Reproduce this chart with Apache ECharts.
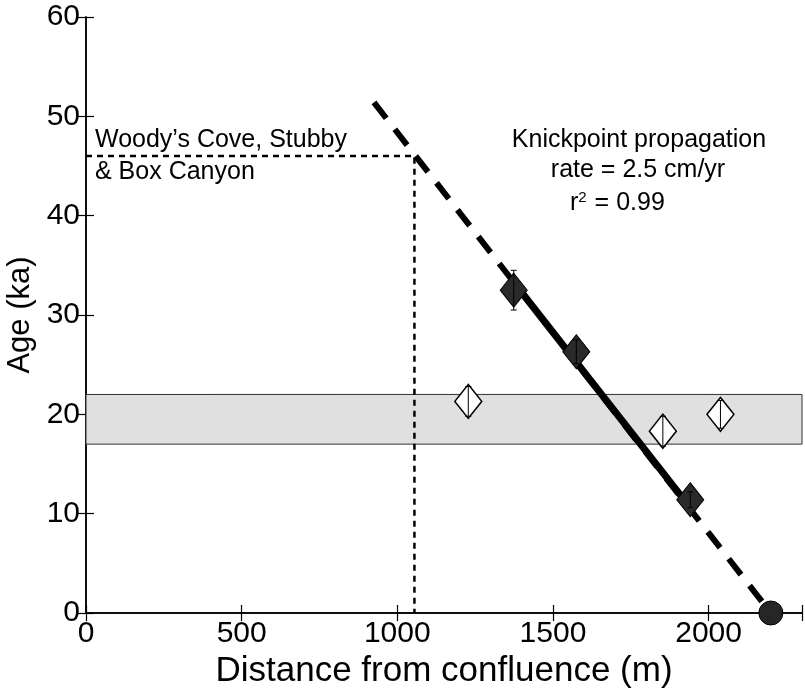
<!DOCTYPE html>
<html><head><meta charset="utf-8">
<script src="https://cdn.jsdelivr.net/npm/echarts@6/dist/echarts.min.js"></script>
<style>html,body{margin:0;padding:0;background:#fff}#c{width:805px;height:693px}</style>
</head><body><div id="c"></div>
<script>
// ---- data ----
const xRange = [0, 2300];
const yRange = [0, 60];
const filledDist = [1374, 1575, 1941];
const filledAge  = [32.5, 26.3, 11.4];
const filledErr  = [2.0, 1.2, 0.8];
const openDist = [1228, 1853, 2038];
const openAge  = [21.3, 18.3, 20.0];
const openErr  = [1.5, 1.5, 1.4];
const confluenceDist = [2200];
const confluenceAge  = [0];
const fitDashedDist = [925, 2200];
const fitDashedAge  = [51.4, 0];
const fitSolidDist = [1374, 1941];
const fitSolidAge  = [33.3, 10.6];
const refDist = 1055;
const refAge = 46;
const floodBand = [17, 22];

const tickFont = "'Liberation Sans',Arial,sans-serif";
const textFont = "'Liberation Sans',Arial,sans-serif";

const zip = (a, b) => a.map((v, i) => [v, b[i]]);
const errData = (xs, ys, es) => xs.map((v, i) => [v, ys[i] - es[i], ys[i] + es[i]]);

const chart = echarts.init(document.getElementById('c'), null, {renderer: 'canvas'});

const axisLineStyle = {lineStyle: {color: '#000', width: 1.5}};
const tickStyle = {show: true, inside: true, length: 8, lineStyle: {color: '#000', width: 1.2}};

function errRender(params, api) {
  const x = api.value(0), lo = api.value(1), hi = api.value(2);
  const p1 = api.coord([x, lo]), p2 = api.coord([x, hi]);
  const c = 3;
  const st = {stroke: '#000', lineWidth: 1};
  return {type: 'group', children: [
    {type: 'line', shape: {x1: p1[0], y1: p1[1], x2: p2[0], y2: p2[1]}, style: st},
    {type: 'line', shape: {x1: p1[0] - c, y1: p1[1], x2: p1[0] + c, y2: p1[1]}, style: st},
    {type: 'line', shape: {x1: p2[0] - c, y1: p2[1], x2: p2[0] + c, y2: p2[1]}, style: st}
  ]};
}

const txt = (x, y, text, align) => ({type: 'text', x: x, y: y,
  style: {text: text, font: '25px ' + textFont, fill: '#000', align: align || 'left', verticalAlign: 'middle'}});

const option = {
  animation: false,
  backgroundColor: '#fff',
  grid: {left: 86, right: 3, top: 17, bottom: 80, containLabel: false, outerBoundsMode: 'none'},
  xAxis: [{
    type: 'value', min: xRange[0], max: xRange[1], interval: 500, position: 'bottom',
    axisLine: axisLineStyle, axisTick: tickStyle, splitLine: {show: false},
    axisLabel: {fontFamily: tickFont, fontSize: 30, color: '#000', margin: 6,
      formatter: v => (v % 500 === 0 ? String(v) : '')},
    name: 'Distance from confluence (m)', nameLocation: 'middle', nameGap: 38,
    nameTextStyle: {fontFamily: tickFont, fontSize: 35, color: '#000'}
  }, {
    type: 'value', min: xRange[0], max: xRange[1], interval: 500, position: 'top',
    axisLine: axisLineStyle, axisTick: tickStyle, axisLabel: {show: false}, splitLine: {show: false}
  }],
  yAxis: [{
    type: 'value', min: yRange[0], max: yRange[1], interval: 10, position: 'left',
    axisLine: axisLineStyle, axisTick: tickStyle, splitLine: {show: false},
    axisLabel: {fontFamily: tickFont, fontSize: 30, color: '#000', margin: 6},
    name: 'Age (ka)', nameLocation: 'middle', nameGap: 50,
    nameTextStyle: {fontFamily: tickFont, fontSize: 31, color: '#000'}
  }, {
    type: 'value', min: yRange[0], max: yRange[1], interval: 10, position: 'right',
    axisLine: axisLineStyle, axisTick: tickStyle, axisLabel: {show: false}, splitLine: {show: false}
  }],
  graphic: [
    txt(95, 140, 'Woody\u2019s Cove, Stubby'),
    txt(95, 172, '& Box Canyon'),
    txt(639, 140, 'Knickpoint propagation', 'center'),
    txt(638, 170, 'rate = 2.5 cm/yr', 'center'),
    {type: 'text', x: 570, y: 203, style: {
      text: '{b|r}{s|2}{b| = 0.99}', verticalAlign: 'middle',
      rich: {b: {fontSize: 25, fontFamily: textFont, color: '#000'},
             s: {fontSize: 15, fontFamily: textFont, color: '#000', verticalAlign: 'top', padding: [0, 1, 10, 0]}}}},
    txt(128, 420, 'Bonneville Flood')
  ],
  series: [
    {
      type: 'custom', name: 'band', z: 1, silent: true,
      data: [[xRange[0], floodBand[0], floodBand[1]]],
      encode: {x: 0, y: [1, 2]},
      renderItem: (params, api) => {
        const cs = params.coordSys;
        const yTop = api.coord([0, api.value(2)])[1];
        const yBot = api.coord([0, api.value(1)])[1];
        return {type: 'rect', shape: {x: cs.x, y: yTop, width: cs.width, height: yBot - yTop},
          style: {fill: '#e0e0e0', stroke: '#333', lineWidth: 1}};
      }
    },
    {
      type: 'line', name: 'ref', z: 2, symbol: 'none', silent: true,
      data: [[xRange[0], refAge], [refDist, refAge], [refDist, 0]],
      lineStyle: {color: '#000', width: 2.5, type: [6, 5]}
    },
    {
      type: 'line', name: 'fitDashed', z: 3, symbol: 'none', silent: true,
      data: zip(fitDashedDist, fitDashedAge),
      lineStyle: {color: '#000', width: 6, type: [20, 14]}
    },
    {
      type: 'line', name: 'fitSolid', z: 4, symbol: 'none', silent: true,
      data: zip(fitSolidDist, fitSolidAge),
      lineStyle: {color: '#000', width: 7}
    },
    {
      type: 'scatter', name: 'filled', z: 5, symbol: 'diamond', symbolSize: [27, 34],
      data: zip(filledDist, filledAge),
      itemStyle: {color: '#2a2a2a', borderColor: '#000', borderWidth: 1, opacity: 1}
    },
    {
      type: 'scatter', name: 'open', z: 5, symbol: 'diamond', symbolSize: [27, 34],
      data: zip(openDist, openAge),
      itemStyle: {color: '#fff', borderColor: '#000', borderWidth: 1.5, opacity: 1}
    },
    {
      type: 'scatter', name: 'confluence', z: 5, symbol: 'circle', symbolSize: 24, clip: false,
      data: zip(confluenceDist, confluenceAge),
      itemStyle: {color: '#262626', borderColor: '#000', borderWidth: 1, opacity: 1}
    },
    {
      type: 'custom', name: 'errFilled', z: 6, silent: true,
      data: errData(filledDist, filledAge, filledErr),
      encode: {x: 0, y: [1, 2]}, renderItem: errRender
    },
    {
      type: 'custom', name: 'errOpen', z: 6, silent: true,
      data: errData(openDist, openAge, openErr),
      encode: {x: 0, y: [1, 2]}, renderItem: errRender
    }
  ]
};
chart.setOption(option);
</script>
</body></html>
